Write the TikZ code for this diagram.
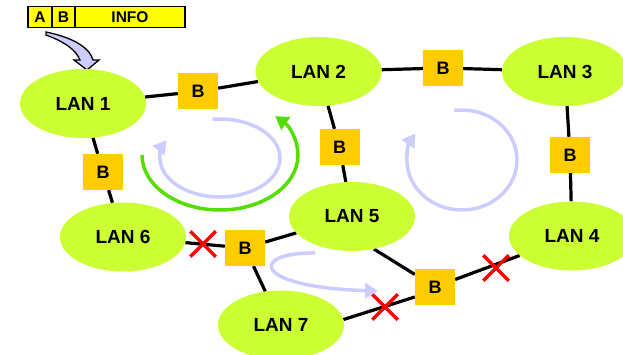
\documentclass[tikz,border=0pt]{standalone}
\usepackage{fontspec}
\setmainfont{Liberation Sans}
\usetikzlibrary{shapes.geometric,shapes.misc,arrows.meta,backgrounds}
\definecolor{lanfill}{HTML}{CCFF33}
\definecolor{bridgefill}{HTML}{FFCC00}
\definecolor{hdrfill}{HTML}{FFFF00}
\definecolor{loopcol}{HTML}{CCCCFF}
\definecolor{greencol}{HTML}{55DD00}
\begin{document}
\begin{tikzpicture}[x=1pt,y=-1pt,
  lan/.style={ellipse, fill=lanfill, minimum width=126pt, minimum height=69pt, inner sep=0pt,
    font=\fontsize{19}{21}\selectfont\bfseries},
  bridge/.style={rectangle, fill=bridgefill, minimum width=40pt, minimum height=36pt, inner sep=0pt,
    font=\fontsize{18}{20}\selectfont\bfseries},
  hdr/.style={rectangle, fill=hdrfill, draw=black, line width=1.8pt, minimum height=21pt, inner sep=0pt,
    font=\fontsize{15.5}{17}\selectfont\bfseries},
  link/.style={line width=3.2pt, black},
  blocked/.style={cross out, draw=red, line width=3.5pt, minimum size=22pt, inner sep=0pt},
  loop/.style={line width=3.5pt, loopcol, -{Triangle[length=13pt,width=15pt]}},
  gloop/.style={line width=3.5pt, greencol, -{Triangle[length=13pt,width=15pt]}}]
\useasboundingbox (0,0) rectangle (623,355);
\clip (0,0) rectangle (623,355);

% header
\node[hdr, minimum width=24pt] (hA) at (40,17) {A};
\node[hdr, minimum width=23pt] (hB) at (63.5,17) {B};
\node[hdr, minimum width=110pt] (hI) at (130,17) {INFO};

% fat arrow
\draw[fill=loopcol, line width=1.3pt, line join=miter]
  (46,32) .. controls (70,37) and (89,46) .. (93,60) -- (99,60) -- (87,70) -- (74,60) -- (80,60)
  .. controls (76,50) and (65,42) .. (46,35) -- cycle;

% LANs
\node[lan] (L1) at (83,103.5) {LAN 1};
\node[lan] (L2) at (318.5,71.5) {LAN 2};
\node[lan] (L3) at (565,71.5) {LAN 3};
\node[lan] (L4) at (572,236) {LAN 4};
\node[lan] (L5) at (352,216.5) {LAN 5};
\node[lan] (L6) at (123,237) {LAN 6};
\node[lan] (L7) at (281,325) {LAN 7};

% bridges
\node[bridge] (B12) at (198,91.5) {B};
\node[bridge] (B16) at (103,172) {B};
\node[bridge] (B23) at (443,68) {B};
\node[bridge] (B25) at (339.5,147) {B};
\node[bridge] (B34) at (570,155) {B};
\node[bridge] (B657) at (245,248) {B};
\node[bridge] (B574) at (435,287) {B};

\begin{scope}[on background layer]
\draw[link] (L1) -- (B12) -- (L2);
\draw[link] (L2) -- (B23) -- (L3);
\draw[link] (L1) -- (B16) -- (L6);
\draw[link] (L2) -- (B25) -- (L5);
\draw[link] (L3) -- (B34) -- (L4);
\draw[link] (L6) -- (B657) -- (L5);
\draw[link] (B657) -- (L7);
\draw[link] (L5.-56) -- (B574);
\draw[link] (L7.5) -- ([yshift=-10pt]B574.west);
\draw[link] (B574) -- (L4);
\end{scope}

% blocked ports
\node[blocked] (X1) at (203,244) {};
\node[blocked] (X2) at (385,307) {};
\node[blocked] (X3) at (496,268) {};

% loops
\draw[loop] (212.7,119.3) arc[start angle=-97, end angle=207, x radius=60, y radius=39];
\draw[gloop] (142,155) arc[start angle=-180, end angle=-405, x radius=78, y radius=55];
\draw[loop] (454.3,110.5) arc[start angle=-98, end angle=212, x radius=55, y radius=50];
\draw[loop] (315,253) .. controls (250,252) and (250,287) .. (378,291);
\end{tikzpicture}
\end{document}
